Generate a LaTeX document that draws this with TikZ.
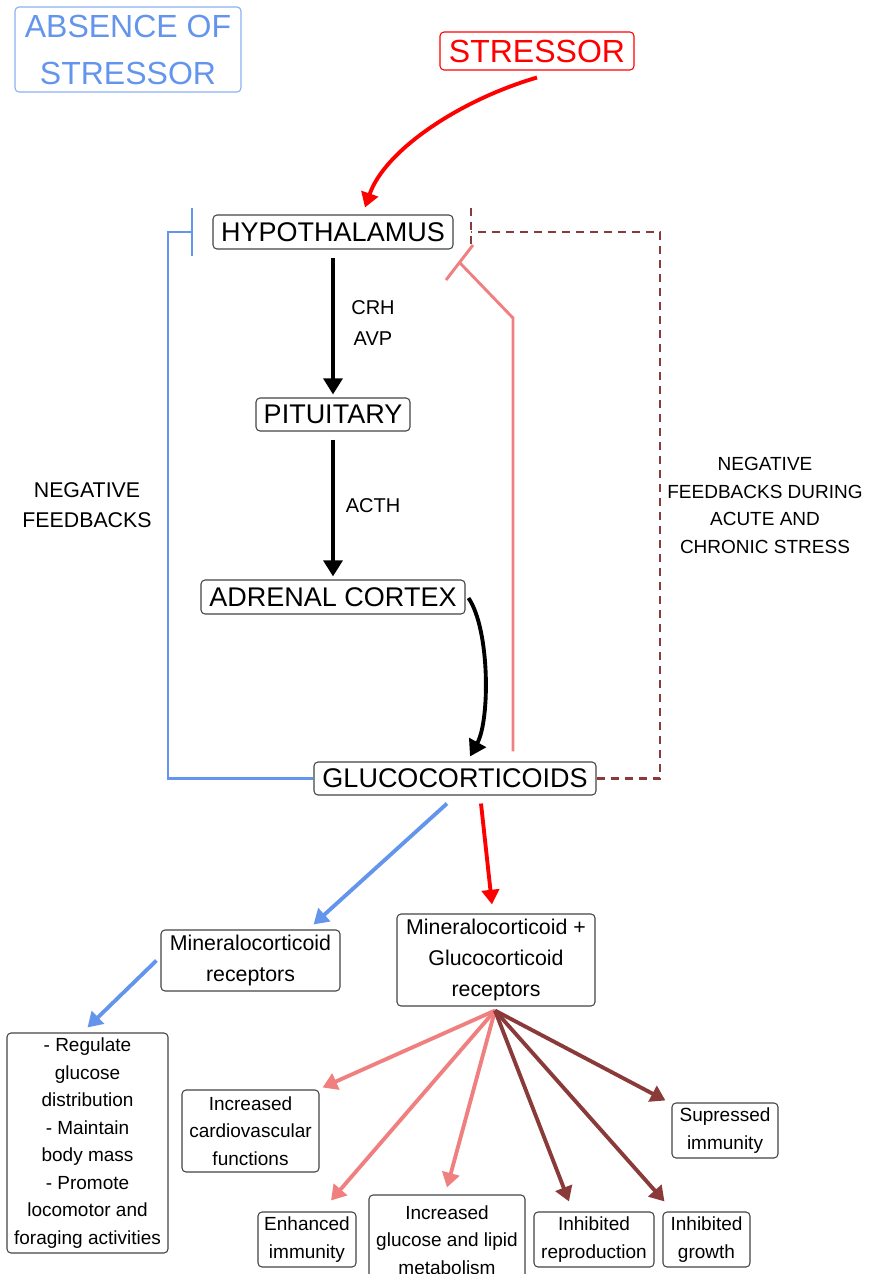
\documentclass[tikz,border=0pt]{standalone}
\usepackage{fontspec}
\setmainfont{Liberation Sans}
\usetikzlibrary{arrows.meta,calc}
\definecolor{cblue}{HTML}{6495ED}
\definecolor{cpink}{HTML}{F08080}
\definecolor{cbrown}{HTML}{8B3A3A}
\definecolor{cred}{HTML}{FF0000}
\definecolor{boxgray}{HTML}{444444}
\begin{document}
\begin{tikzpicture}[x=0.75pt,y=-0.75pt,
  box/.style={draw=boxgray, line width=0.8pt, rounded corners=3pt, inner sep=0pt, align=center},
  bigbox/.style={box, font=\fontsize{20.25}{24}\selectfont},
  midbox/.style={box, font=\fontsize{16}{23.25}\selectfont},
  smallbox/.style={box, font=\fontsize{14.25}{20.6}\selectfont},
  lbl/.style={align=center, inner sep=0pt},
  blackarrow/.style={line width=2.9pt, -{Triangle[length=12pt,width=14pt]}},
  colarrow/.style={line width=2.9pt, -{Triangle[length=11pt,width=13pt]}},
  fb/.style={line width=2.2pt},
  dashfb/.style={line width=1.6pt, dash pattern=on 6pt off 4.5pt}
]
\useasboundingbox (0,0) rectangle (868,1274);

% top labels
\node[box, draw=cblue!75, text=cblue, font=\fontsize{24}{35.25}\selectfont, minimum width=169.5pt, minimum height=63.75pt] (absence) at (128,49.5) {ABSENCE OF\\STRESSOR};
\node[box, draw=cred, text=cred, font=\fontsize{24}{28}\selectfont, minimum width=145.5pt, minimum height=28.5pt] (stressor) at (537,51) {STRESSOR};

% axis
\node[bigbox, minimum width=180pt, minimum height=25.5pt] (hypo) at (333,232) {HYPOTHALAMUS};
\node[bigbox, minimum width=115.5pt, minimum height=24.75pt] (pit) at (333,414.5) {PITUITARY};
\node[bigbox, minimum width=198pt, minimum height=25.5pt] (adrenal) at (333,597) {ADRENAL CORTEX};
\node[bigbox, minimum width=211.5pt, minimum height=24.75pt] (gluco) at (455,778.5) {GLUCOCORTICOIDS};

% hormone labels
\node[lbl, font=\fontsize{15}{18}\selectfont] (crh) at (373,308) {CRH};
\node[lbl, font=\fontsize{15}{18}\selectfont] (avp) at (373,339) {AVP};
\node[lbl, font=\fontsize{15}{18}\selectfont] (acth) at (373,506) {ACTH};

% feedback labels
\node[lbl, font=\fontsize{16}{22.5}\selectfont] (negl) at (87,505) {NEGATIVE\\FEEDBACKS};
\node[lbl, font=\fontsize{14.25}{20.8}\selectfont] (negr) at (765,505.5) {NEGATIVE\\FEEDBACKS DURING\\ACUTE AND\\CHRONIC STRESS};

% receptors
\node[midbox, minimum width=134.25pt, minimum height=45.75pt] (mr) at (250.5,960.5) {Mineralocorticoid\\receptors};
\node[midbox, minimum width=148.5pt, minimum height=69pt] (mrgr) at (496,960) {Mineralocorticoid +\\Glucocorticoid\\receptors};

% outcomes
\node[smallbox, minimum width=120.75pt, minimum height=165pt] (list) at (87.5,1143) {- Regulate\\glucose\\distribution\\- Maintain\\body mass\\- Promote\\locomotor and\\foraging activities};
\node[smallbox, minimum width=102.75pt, minimum height=61.5pt] (cardio) at (250.5,1131) {Increased\\cardiovascular\\functions};
\node[smallbox, minimum width=73.5pt, minimum height=41.25pt] (enh) at (307,1239.5) {Enhanced\\immunity};
\node[smallbox, minimum width=117pt, minimum height=67.5pt] (lipid) at (447,1240) {Increased\\glucose and lipid\\metabolism};
\node[smallbox, minimum width=90pt, minimum height=41.25pt] (repro) at (594,1239.5) {Inhibited\\reproduction};
\node[smallbox, minimum width=65.25pt, minimum height=41.25pt] (growth) at (706.5,1239.5) {Inhibited\\growth};
\node[smallbox, minimum width=79.5pt, minimum height=41.25pt] (supp) at (725,1130.5) {Supressed\\immunity};

% stressor arrow
\draw[colarrow, cred] ($(stressor.south)+(0,7)$) .. controls (460,100) and (385,150) .. ($(hypo.north)+(32,-7)$);

% black axis arrows
\draw[blackarrow] ($(hypo.south)+(0,8)$) -- ($(pit.north)+(0,-3)$);
\draw[blackarrow] ($(pit.south)+(0,8)$) -- ($(adrenal.north)+(0,-3)$);
\draw[blackarrow] ($(adrenal.east)+(3,1)$) .. controls (490,630) and (490,720) .. ($(gluco.north)+(15,-5)$);

% blue negative feedback
\coordinate (bl1) at (168,778.5);
\coordinate (bl2) at (168,232);
\coordinate (bl3) at (192,232);
\coordinate (blt1) at (192,208);
\coordinate (blt2) at (192,256);
\draw[fb, cblue] (gluco.west) -- (bl1) -- (bl2) -- (bl3);
\draw[fb, cblue] (blt1) -- (blt2);

% pink feedback
\coordinate (pk1) at (513,318);
\coordinate (pk2) at (460,263);
\coordinate (pkt1) at (446,280);
\coordinate (pkt2) at (473,245);
\draw[fb, cpink] ($(gluco.north)+(58,-10)$) -- (pk1) -- (pk2);
\draw[fb, cpink] (pkt1) -- (pkt2);

% brown dashed feedback
\coordinate (br1) at (660,778.5);
\coordinate (br2) at (660,232);
\coordinate (br3) at (471,232);
\coordinate (brt1) at (471,208);
\coordinate (brt2) at (471,245);
\draw[dashfb, cbrown] (gluco.east) -- (br1) -- (br2) -- (br3);
\draw[dashfb, cbrown] (brt1) -- (brt2);

% glucocorticoids to receptors
\draw[colarrow, cblue] ($(gluco.south)+(-8,8)$) -- ($(mr.north east)+(-27,-5)$);
\draw[colarrow, cred] ($(gluco.south)+(26,8)$) -- ($(mrgr.north)+(-4,-9)$);
\draw[colarrow, cblue] ($(mr.west)+(-4,0)$) -- ($(list.north)+(0,-5)$);

% fan
\coordinate (fan) at ($(mrgr.south)+(-1,4)$);
\draw[colarrow, cpink] (fan) -- ($(cardio.north east)+(3,-2)$);
\draw[colarrow, cpink] (fan) -- ($(enh.north)+(24,-11)$);
\draw[colarrow, cpink] (fan) -- ($(lipid.north)+(0,-7)$);
\draw[colarrow, cbrown] (fan) -- ($(repro.north)+(-25,-10)$);
\draw[colarrow, cbrown] (fan) -- ($(growth.north west)+(2,-10)$);
\draw[colarrow, cbrown] (fan) -- ($(supp.north west)+(-6,-2)$);
\end{tikzpicture}
\end{document}
